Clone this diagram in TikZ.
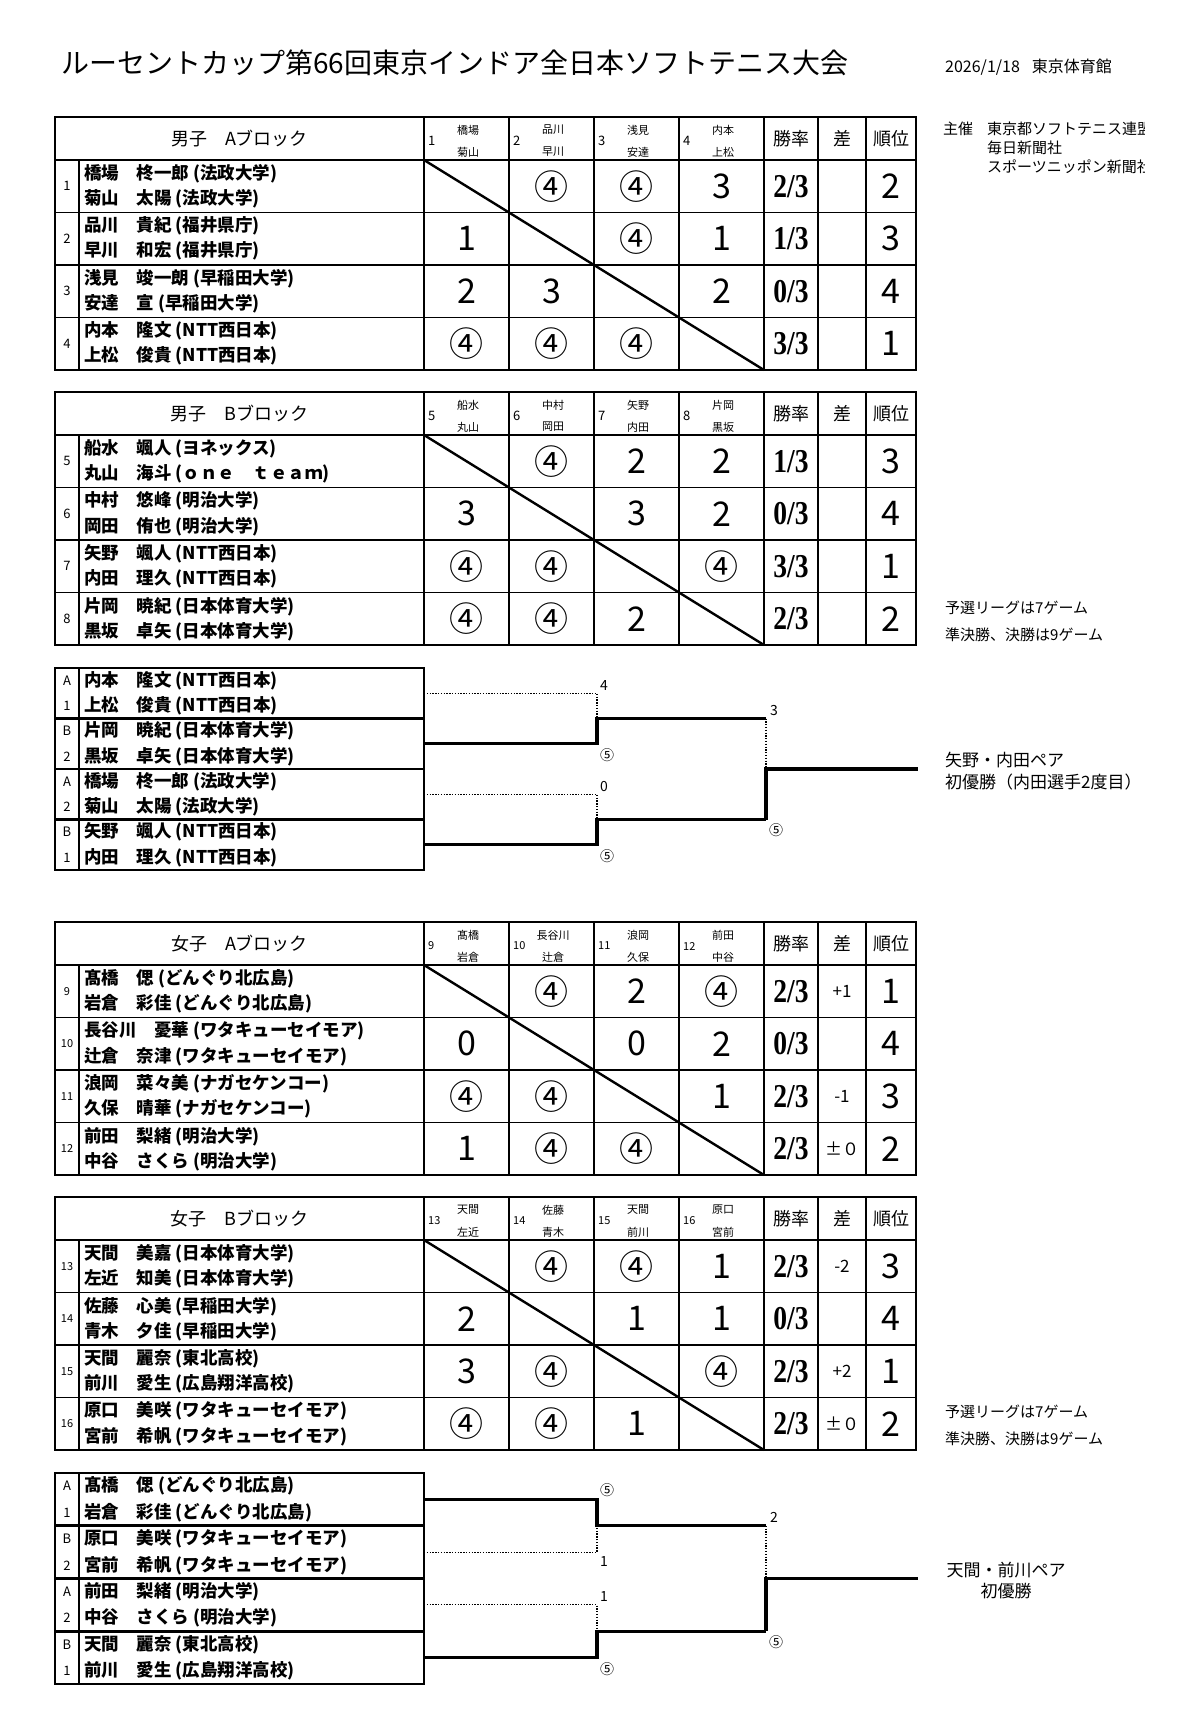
\documentclass[tikz,border=0pt]{standalone}
\usepackage{fontspec}
\setmainfont{Noto Sans CJK JP}
\newfontfamily\ratefont{Liberation Serif}
\usepackage{graphicx}
\usetikzlibrary{positioning}

\newcommand{\fs}[1]{\fontsize{#1}{#1}\selectfont}
\newcommand{\numsize}{13}

\tikzset{
  gridline/.style={line width=1.6pt},
  frameline/.style={line width=2.6pt},
  diagline/.style={line width=2.4pt},
  winline/.style={line width=3.4pt, line join=miter},
  loseline/.style={line width=1.1pt, dash pattern=on 1.3pt off 1.5pt},
  entry/.style={anchor=west, inner sep=0pt, font=\bfseries\fs{17.5}},
  idx/.style={inner sep=0pt, font=\fs{\numsize}},
  tag/.style={inner sep=0pt, font=\fs{11}},
  head/.style={inner sep=0pt, font=\fs{18}},
  score/.style={inner sep=0pt, font=\fs{34}},
  rate/.style={inner sep=0pt, font=\ratefont\bfseries\fs{29}},
  diff/.style={inner sep=0pt, font=\fs{17}},
  game/.style={inner sep=0pt, font=\fs{14}},
  note/.style={anchor=west, inner sep=0pt, font=\fs{15}},
}

% league table: prefix, top, title, header list, rows
\newcommand{\leaguetable}[5]{%
  \begin{scope}[shift={(0,#2)}]
    \foreach \k in {0,...,3} \draw[gridline] (55,43+52.5*\k) -- (916,43+52.5*\k);
    \draw[gridline] (79,43) -- (79,253);
    \foreach \xx in {424,509,594,679,764,818,866} \draw[gridline] (\xx,0) -- (\xx,253);
    \draw[diagline] (424,43) -- (764,253);
    \draw[frameline] (55,0) rectangle (916,253);
    \node[head] (#1-title) at (239.5,21.5) {#3};
    \node[head] (#1-rate) at (791,21.5) {勝率};
    \node[head] (#1-diff) at (842,21.5) {差};
    \node[head] (#1-rank) at (891,21.5) {順位};
    \foreach \h/\ta/\tb [count=\c from 0] in {#4} {
      \node[idx, anchor=west] (#1-h\c) at (428+85*\c,24) {\h};
      \node[tag] (#1-ha\c) at (468+85*\c,13) {\ta};
      \node[tag] (#1-hb\c) at (468+85*\c,35) {\tb};
    }
    \foreach \i/\na/\nb/\sa/\sb/\sc/\sd/\ra/\df/\rk [count=\c from 0] in {#5} {
      \node[idx] (#1-i\c) at (67,69.25+52.5*\c) {\i};
      \node[entry] (#1-a\c) at (84,56.75+52.5*\c) {\na};
      \node[entry] (#1-b\c) at (84,81.75+52.5*\c) {\nb};
      \node[score] (#1-s\c a) at (466.5,69.25+52.5*\c) {\sa};
      \node[score] (#1-s\c b) at (551.5,69.25+52.5*\c) {\sb};
      \node[score] (#1-s\c c) at (636.5,69.25+52.5*\c) {\sc};
      \node[score] (#1-s\c d) at (721.5,69.25+52.5*\c) {\sd};
      \node[rate] (#1-w\c) at (791,69.25+52.5*\c) {\scalebox{0.95}[1.15]{\ra/3}};
      \node[diff] (#1-d\c) at (842,69.25+52.5*\c) {\df};
      \node[score] (#1-r\c) at (891,69.25+52.5*\c) {\rk};
    }
  \end{scope}
}

% knockout box: prefix, top, pair height, rows
\newcommand{\bracketbox}[4]{%
  \begin{scope}[shift={(0,#2)}]
    \foreach \k in {1,2,3} \draw[frameline] (55,#3*\k) -- (424,#3*\k);
    \draw[gridline] (79,0) -- (79,4*#3);
    \draw[frameline] (55,0) rectangle (424,4*#3);
    \foreach \l/\nm [count=\c from 0] in {#4} {
      \node[idx] (#1-l\c) at (67,{#3*(\c+0.5)/2}) {\l};
      \node[entry] (#1-n\c) at (84,{#3*(\c+0.5)/2}) {\nm};
    }
  \end{scope}
}

\begin{document}
\begin{tikzpicture}[x=1pt,y=-1pt]
\useasboundingbox (0,0) rectangle (1200,1725);
\fill[white] (0,0) rectangle (1200,1725);

\node[anchor=west, inner sep=0pt, font=\fs{28}] (title) at (61,63) {ルーセントカップ第66回東京インドア全日本ソフトテニス大会};
\node[anchor=west, inner sep=0pt, font=\fs{16}] (date) at (945,67) {2026/1/18\hspace{12pt}東京体育館};

\begin{scope}
  \clip (900,100) rectangle (1144,185);
  \node[note] (host) at (943,129) {主催};
  \node[note] (host1) at (987,129) {東京都ソフトテニス連盟};
  \node[note] (host2) at (987,148) {毎日新聞社};
  \node[note] (host3) at (987,167) {スポーツニッポン新聞社};
\end{scope}

\leaguetable{ma}{117}{男子　Aブロック}{1/橋場/菊山, 2/品川/早川, 3/浅見/安達, 4/内本/上松}{
  1/橋場　柊一郎 (法政大学)/菊山　太陽 (法政大学)/{}/④/④/3/2/{}/2,
  2/品川　貴紀 (福井県庁)/早川　和宏 (福井県庁)/1/{}/④/1/1/{}/3,
  3/浅見　竣一朗 (早稲田大学)/安達　宣 (早稲田大学)/2/3/{}/2/0/{}/4,
  4/内本　隆文 (NTT西日本)/上松　俊貴 (NTT西日本)/④/④/④/{}/3/{}/1}

\leaguetable{mb}{392}{男子　Bブロック}{5/船水/丸山, 6/中村/岡田, 7/矢野/内田, 8/片岡/黒坂}{
  5/船水　颯人 (ヨネックス)/丸山　海斗 (ｏｎｅ　ｔｅａｍ)/{}/④/2/2/1/{}/3,
  6/中村　悠峰 (明治大学)/岡田　侑也 (明治大学)/3/{}/3/2/0/{}/4,
  7/矢野　颯人 (NTT西日本)/内田　理久 (NTT西日本)/④/④/{}/④/3/{}/1,
  8/片岡　暁紀 (日本体育大学)/黒坂　卓矢 (日本体育大学)/④/④/2/{}/2/{}/2}

\node[note] (mnote1) at (945,608) {予選リーグは7ゲーム};
\node[note] (mnote2) at (945,635) {準決勝、決勝は9ゲーム};

\bracketbox{mk}{668}{50.5}{A/内本　隆文 (NTT西日本), 1/上松　俊貴 (NTT西日本),
  B/片岡　暁紀 (日本体育大学), 2/黒坂　卓矢 (日本体育大学),
  A/橋場　柊一郎 (法政大学), 2/菊山　太陽 (法政大学),
  B/矢野　颯人 (NTT西日本), 1/内田　理久 (NTT西日本)}

\draw[loseline] (424,693.25) -| (597,718.5);
\draw[winline] (424,743.75) -| (597,718.5) -- (766,718.5);
\draw[loseline] (424,794.25) -| (597,819.5);
\draw[winline] (424,844.75) -| (597,819.5) -- (766,819.5);
\draw[loseline] (766,718.5) -- (766,769);
\draw[winline] (766,819.5) -- (766,769) -- (918,769);
\node[game, anchor=south west] (mg1) at (600,691) {4};
\node[game, anchor=north west] (mg2) at (600,748) {⑤};
\node[game, anchor=south west] (mg3) at (600,792) {0};
\node[game, anchor=north west] (mg4) at (600,849) {⑤};
\node[game, anchor=south west] (mg5) at (770,716) {3};
\node[game, anchor=north west] (mg6) at (769,823) {⑤};
\node[note, font=\fs{17}] (mwin1) at (945,760) {矢野・内田ペア};
\node[note, font=\fs{17}] (mwin2) at (945,782) {初優勝（内田選手2度目）};

\renewcommand{\numsize}{11}
\leaguetable{wa}{922}{女子　Aブロック}{9/髙橋/岩倉, 10/長谷川/辻倉, 11/浪岡/久保, 12/前田/中谷}{
  9/髙橋　偲 (どんぐり北広島)/岩倉　彩佳 (どんぐり北広島)/{}/④/2/④/2/+1/1,
  10/長谷川　憂華 (ワタキューセイモア)/辻倉　奈津 (ワタキューセイモア)/0/{}/0/2/0/{}/4,
  11/浪岡　菜々美 (ナガセケンコー)/久保　晴華 (ナガセケンコー)/④/④/{}/1/2/-1/3,
  12/前田　梨緒 (明治大学)/中谷　さくら (明治大学)/1/④/④/{}/2/±０/2}

\leaguetable{wb}{1197}{女子　Bブロック}{13/天間/左近, 14/佐藤/青木, 15/天間/前川, 16/原口/宮前}{
  13/天間　美嘉 (日本体育大学)/左近　知美 (日本体育大学)/{}/④/④/1/2/-2/3,
  14/佐藤　心美 (早稲田大学)/青木　夕佳 (早稲田大学)/2/{}/1/1/0/{}/4,
  15/天間　麗奈 (東北高校)/前川　愛生 (広島翔洋高校)/3/④/{}/④/2/+2/1,
  16/原口　美咲 (ワタキューセイモア)/宮前　希帆 (ワタキューセイモア)/④/④/1/{}/2/±０/2}

\node[note] (wnote1) at (945,1412) {予選リーグは7ゲーム};
\node[note] (wnote2) at (945,1439) {準決勝、決勝は9ゲーム};

\renewcommand{\numsize}{13}
\bracketbox{wk}{1473}{52.75}{A/髙橋　偲 (どんぐり北広島), 1/岩倉　彩佳 (どんぐり北広島),
  B/原口　美咲 (ワタキューセイモア), 2/宮前　希帆 (ワタキューセイモア),
  A/前田　梨緒 (明治大学), 2/中谷　さくら (明治大学),
  B/天間　麗奈 (東北高校), 1/前川　愛生 (広島翔洋高校)}

\draw[winline] (424,1499.4) -| (597,1525.75) -- (766,1525.75);
\draw[loseline] (424,1552.1) -| (597,1525.75);
\draw[loseline] (424,1604.9) -| (597,1631.25);
\draw[winline] (424,1657.6) -| (597,1631.25) -- (766,1631.25);
\draw[loseline] (766,1525.75) -- (766,1578.5);
\draw[winline] (766,1631.25) -- (766,1578.5) -- (918,1578.5);
\node[game, anchor=south west] (wg1) at (600,1497) {⑤};
\node[game, anchor=north west] (wg2) at (600,1556) {1};
\node[game, anchor=south west] (wg3) at (600,1602) {1};
\node[game, anchor=north west] (wg4) at (600,1662) {⑤};
\node[game, anchor=south west] (wg5) at (770,1523) {2};
\node[game, anchor=north west] (wg6) at (769,1635) {⑤};
\node[inner sep=0pt, font=\fs{17}] (wwin1) at (1006,1570) {天間・前川ペア};
\node[inner sep=0pt, font=\fs{17}] (wwin2) at (1006,1591) {初優勝};
\end{tikzpicture}
\end{document}
